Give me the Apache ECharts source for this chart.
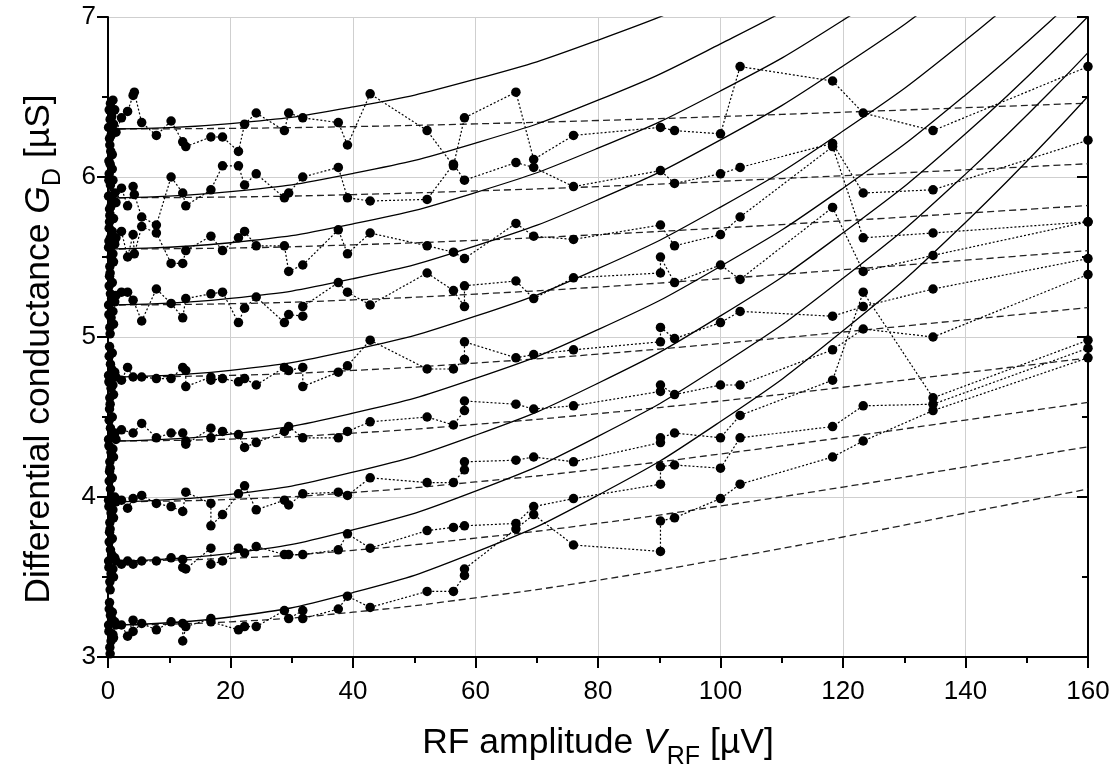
<!DOCTYPE html>
<html>
<head>
<meta charset="utf-8">
<script src="https://cdn.jsdelivr.net/npm/echarts@6/dist/echarts.min.js"></script>
<style>
html,body{margin:0;padding:0;background:#fff;}
#chart{width:1113px;height:770px;}
</style>
</head>
<body>
<div id="chart"></div>
<script>
// ---- measured data series (x = RF amplitude in µV, y = conductance in µS) ----
const s1 = [[0.1,6.31],[0.15,6.10],[0.2,6.42],[0.25,6.24],[0.3,6.2],[0.35,6.36],[0.4,6.46],[0.45,6.16],[0.5,6.26],[0.6,6.38],[0.7,6.14],[0.8,6.48],[0.9,6.33],[1.1,6.42],[1.3,6.28],[2.2,6.37],[3.2,6.41],[4.1,6.51],[4.3,6.53],[5.5,6.34],[7.9,6.26],[10.3,6.35],[12.2,6.22],[12.7,6.19],[16.8,6.25],[18.7,6.25],[21.3,6.16],[22.3,6.33],[24.2,6.40],[28.8,6.29],[29.5,6.40],[31.8,6.37],[37.6,6.34],[39.1,6.20],[42.8,6.52],[52.1,6.29],[56.4,6.07],[58.2,6.37],[66.6,6.53],[69.5,6.11],[76,6.26],[90.2,6.31],[92.5,6.29],[100,6.27],[103.2,6.69],[118.3,6.60],[123.3,6.40],[134.7,6.29],[160,6.69]];
const s2 = [[0.1,5.88],[0.15,5.98],[0.2,6.02],[0.25,5.8],[0.3,5.76],[0.35,6.08],[0.4,5.95],[0.5,5.82],[0.6,5.86],[0.7,6.05],[0.8,5.98],[0.9,5.74],[1.1,5.9],[1.3,5.84],[2.2,5.93],[3.2,5.82],[4.1,5.94],[4.3,5.89],[5.5,5.75],[7.9,5.70],[10.3,6.00],[12.2,5.90],[12.7,5.82],[16.8,5.92],[18.7,6.07],[21.3,6.07],[22.3,5.95],[24.2,6.02],[28.8,5.87],[29.5,5.90],[31.8,6.00],[37.6,6.06],[39.1,5.87],[42.8,5.85],[52.1,5.86],[56.4,6.08],[58.2,5.98],[66.6,6.09],[69.5,6.06],[76,5.94],[90.2,6.04],[92.5,5.96],[100,6.02],[103.2,6.06],[118.3,6.21],[123.3,5.90],[134.7,5.92],[160,6.23]];
const s3 = [[0.1,5.56],[0.15,5.6],[0.2,5.68],[0.25,5.72],[0.3,5.44],[0.35,5.4],[0.4,5.62],[0.5,5.5],[0.6,5.58],[0.7,5.66],[0.8,5.52],[0.9,5.47],[1.1,5.58],[1.3,5.62],[2.2,5.66],[3.2,5.50],[4.1,5.64],[4.3,5.52],[5.5,5.69],[7.9,5.65],[10.3,5.46],[12.2,5.46],[12.7,5.54],[16.8,5.63],[18.7,5.54],[21.3,5.62],[22.3,5.66],[24.2,5.57],[28.8,5.57],[29.5,5.41],[31.8,5.45],[37.6,5.67],[39.1,5.52],[42.8,5.65],[52.1,5.57],[56.4,5.53],[58.2,5.49],[66.6,5.71],[69.5,5.63],[76,5.61],[90.2,5.70],[92.5,5.57],[100,5.64],[103.2,5.75],[118.3,6.19],[123.3,5.62],[134.7,5.65],[160,5.72]];
const s4 = [[0.1,5.2],[0.15,5.14],[0.2,5.32],[0.25,5.38],[0.3,5.06],[0.35,5.02],[0.4,5.27],[0.5,5.12],[0.6,5.24],[0.7,5.34],[0.8,5.16],[0.9,5.08],[1.1,5.22],[1.3,5.26],[2.2,5.28],[3.2,5.28],[4.1,5.23],[5.5,5.10],[7.9,5.30],[10.3,5.21],[12.2,5.12],[12.7,5.24],[16.8,5.27],[18.7,5.28],[21.3,5.09],[22.3,5.18],[24.2,5.25],[28.8,5.09],[29.5,5.14],[31.8,5.13],[31.8,5.19],[37.6,5.34],[39.1,5.28],[42.8,5.20],[52.1,5.40],[56.4,5.29],[58.2,5.19],[58.2,5.32],[66.6,5.35],[69.5,5.24],[76,5.37],[90.2,5.40],[90.2,5.50],[92.5,5.34],[100,5.45],[103.2,5.36],[118.3,5.81],[123.3,5.41],[134.7,5.51],[160,5.72]];
const s5 = [[0.1,4.76],[0.15,4.72],[0.2,4.88],[0.25,4.94],[0.3,4.62],[0.35,4.58],[0.4,4.83],[0.5,4.68],[0.6,4.8],[0.7,4.9],[0.8,4.7],[0.9,4.64],[1.1,4.78],[1.3,4.75],[2.2,4.73],[3.2,4.81],[4.1,4.75],[5.5,4.75],[7.9,4.74],[10.3,4.74],[12.2,4.81],[12.7,4.79],[12.7,4.69],[16.8,4.75],[16.8,4.73],[18.7,4.74],[21.3,4.72],[22.3,4.74],[24.2,4.70],[28.8,4.81],[29.5,4.79],[31.8,4.81],[31.8,4.69],[37.6,4.78],[39.1,4.82],[42.8,4.98],[52.1,4.80],[56.4,4.80],[58.2,4.86],[58.2,4.97],[66.6,4.87],[69.5,4.89],[76,4.92],[90.2,4.97],[90.2,5.06],[92.5,4.99],[100,5.09],[103.2,5.16],[118.3,5.13],[123.3,5.19],[134.7,5.30],[160,5.49]];
const s6 = [[0.1,4.36],[0.15,4.32],[0.2,4.48],[0.25,4.55],[0.3,4.22],[0.35,4.18],[0.4,4.43],[0.5,4.28],[0.6,4.38],[0.7,4.5],[0.8,4.3],[0.9,4.25],[1.1,4.4],[1.3,4.36],[2.2,4.42],[4.1,4.40],[5.5,4.46],[7.9,4.37],[10.3,4.40],[12.2,4.40],[12.7,4.35],[12.7,4.33],[16.8,4.43],[16.8,4.37],[18.7,4.41],[21.3,4.39],[22.3,4.31],[24.2,4.34],[28.8,4.41],[29.5,4.44],[31.8,4.37],[37.6,4.37],[39.1,4.41],[42.8,4.47],[52.1,4.50],[56.4,4.45],[58.2,4.54],[58.2,4.60],[66.6,4.58],[69.5,4.55],[76,4.57],[90.2,4.66],[90.2,4.70],[92.5,4.64],[100,4.70],[103.2,4.70],[118.3,4.92],[123.3,5.05],[134.7,5.00],[160,5.39]];
const s7 = [[0.1,3.98],[0.15,3.94],[0.2,4.1],[0.25,4.16],[0.3,3.84],[0.35,3.8],[0.4,4.05],[0.5,3.9],[0.6,4.0],[0.7,4.12],[0.8,3.92],[0.9,3.87],[1.1,4.0],[1.3,3.97],[2.2,3.98],[3.2,3.93],[4.1,3.99],[5.5,4.01],[7.9,3.96],[10.3,3.94],[12.2,3.91],[12.7,4.03],[16.8,3.96],[16.8,3.82],[18.7,3.89],[21.3,4.02],[22.3,4.07],[24.2,3.92],[28.8,3.98],[29.5,3.95],[31.8,4.02],[37.6,4.03],[39.1,4.01],[42.8,4.12],[52.1,4.09],[56.4,4.09],[58.2,4.17],[58.2,4.22],[66.6,4.23],[69.5,4.25],[76,4.22],[90.2,4.34],[90.2,4.37],[92.5,4.40],[100,4.37],[103.2,4.51],[118.3,4.73],[123.3,5.28],[134.7,4.62],[160,4.98]];
const s8 = [[0.1,3.6],[0.15,3.56],[0.2,3.72],[0.25,3.78],[0.3,3.47],[0.35,3.42],[0.4,3.67],[0.5,3.52],[0.6,3.64],[0.7,3.74],[0.8,3.55],[0.9,3.5],[1.1,3.62],[1.3,3.6],[2.2,3.58],[3.2,3.60],[4.1,3.58],[5.5,3.60],[7.9,3.60],[10.3,3.62],[12.2,3.61],[12.2,3.56],[12.7,3.55],[16.8,3.68],[16.8,3.58],[18.7,3.60],[21.3,3.68],[22.3,3.65],[24.2,3.69],[28.8,3.64],[29.5,3.64],[31.8,3.64],[37.6,3.67],[39.1,3.77],[42.8,3.68],[52.1,3.79],[56.4,3.81],[58.2,3.82],[66.6,3.835],[69.5,3.94],[76,3.99],[90.2,4.08],[90.2,4.19],[92.5,4.20],[100,4.18],[103.2,4.37],[118.3,4.44],[123.3,4.57],[134.7,4.58],[160,4.93]];
const s9 = [[0.1,3.2],[0.15,3.16],[0.2,3.3],[0.25,3.34],[0.3,3.06],[0.35,3.02],[0.4,3.26],[0.5,3.1],[0.6,3.24],[0.7,3.28],[0.8,3.14],[0.9,3.12],[1.1,3.22],[1.3,3.2],[2.2,3.20],[3.2,3.13],[4.1,3.23],[4.1,3.16],[5.5,3.21],[7.9,3.17],[10.3,3.22],[12.2,3.21],[12.2,3.10],[12.7,3.19],[16.8,3.24],[16.8,3.22],[21.3,3.17],[22.3,3.19],[24.2,3.19],[28.8,3.29],[29.5,3.24],[31.8,3.29],[31.8,3.24],[37.6,3.30],[39.1,3.38],[42.8,3.31],[52.1,3.41],[56.4,3.41],[58.2,3.51],[58.2,3.55],[66.6,3.80],[69.5,3.89],[76,3.70],[90.2,3.66],[90.2,3.85],[92.5,3.87],[100,3.99],[103.2,4.08],[118.3,4.25],[123.3,4.35],[134.7,4.54],[160,4.87]];

// ---- fitted curves, read at these x positions ----
const fitX = [0,20,40,60,80,100,120,140,160];
const solid1 = [6.30,6.334,6.438,6.611,6.855,7.17,7.56,8.02,8.56];
const solid2 = [5.87,5.908,6.022,6.212,6.480,6.832,7.256,7.768,8.368];
const solid3 = [5.55,5.589,5.707,5.903,6.180,6.538,6.980,7.509,8.128];
const solid4 = [5.20,5.241,5.364,5.569,5.858,6.232,6.694,7.245,7.890];
const solid5 = [4.75,4.792,4.919,5.130,5.427,5.812,6.287,6.854,7.517];
const solid6 = [4.35,4.393,4.524,4.741,5.046,5.442,5.930,6.513,7.194];
const solid7 = [3.97,4.016,4.155,4.386,4.711,5.132,5.651,6.270,7.003];
const solid8 = [3.60,3.648,3.795,4.037,4.379,4.822,5.367,6.018,6.777];
const solid9 = [3.20,3.250,3.403,3.655,4.011,4.472,5.039,5.716,6.505];
const dash1 = [6.30,6.304,6.315,6.332,6.353,6.378,6.405,6.433,6.462];
const dash2 = [5.87,5.875,5.89,5.913,5.94,5.973,6.008,6.045,6.083];
const dash3 = [5.55,5.556,5.576,5.604,5.64,5.681,5.726,5.774,5.822];
const dash4 = [5.20,5.208,5.232,5.268,5.312,5.364,5.42,5.48,5.54];
const dash5 = [4.75,4.76,4.791,4.837,4.893,4.959,5.031,5.107,5.184];
const dash6 = [4.35,4.362,4.399,4.454,4.521,4.60,4.686,4.777,4.869];
const dash7 = [3.97,3.985,4.028,4.094,4.174,4.269,4.372,4.481,4.591];
const dash8 = [3.60,3.617,3.667,3.743,3.835,3.944,4.062,4.188,4.314];
const dash9 = [3.20,3.22,3.28,3.37,3.48,3.61,3.75,3.90,4.05];

const measured = [s1,s2,s3,s4,s5,s6,s7,s8,s9];
const solids = [solid1,solid2,solid3,solid4,solid5,solid6,solid7,solid8,solid9];
const dashes = [dash1,dash2,dash3,dash4,dash5,dash6,dash7,dash8,dash9];

const FONT = 'Liberation Sans';
const pair = arr => fitX.map((x,i)=>[x,arr[i]]);

const series = [];
dashes.forEach(d => series.push({
  type:'line', data:pair(d), smooth:true, showSymbol:false, silent:true, z:2,
  lineStyle:{color:'#222', width:1.3, type:[7,4]}
}));
solids.forEach(s => series.push({
  type:'line', data:pair(s), smooth:true, showSymbol:false, silent:true, z:3,
  lineStyle:{color:'#000', width:1.3, type:'solid'}
}));
measured.forEach(m => series.push({
  type:'line', data:m, symbol:'circle', symbolSize:9.5, silent:true, z:4,
  itemStyle:{color:'#000'},
  lineStyle:{color:'#000', width:1.2, type:[2,2]}
}));

const richTitle = {
  n:{fontSize:35.5, fontFamily:FONT, color:'#000', lineHeight:35, verticalAlign:'top'},
  i:{fontSize:35.5, fontFamily:FONT, color:'#000', fontStyle:'italic', lineHeight:35, verticalAlign:'top'},
  s:{fontSize:25, fontFamily:FONT, color:'#000', lineHeight:25, verticalAlign:'top', padding:[20,0,0,0]}
};
const axisBlack = {show:true, onZero:false, lineStyle:{color:'#000', width:2}};
const chart = echarts.init(document.getElementById('chart'), null, {renderer:'canvas'});
chart.setOption({
  animation:false,
  backgroundColor:'#fff',
  grid:{left:108, right:25, top:17, bottom:113, containLabel:false, outerBoundsMode:'none'},
  xAxis:[{
    type:'value', min:0, max:160, interval:20, position:'bottom',
    axisLine:axisBlack,
    axisTick:{show:true, inside:false, length:11, lineStyle:{color:'#000', width:2}},
    minorTick:{show:true, splitNumber:2, length:6, lineStyle:{color:'#000', width:2}},
    splitLine:{show:true, lineStyle:{color:'#cfcfcf', width:1}},
    axisLabel:{fontSize:26, color:'#000', fontFamily:FONT, margin:22},
    name:'{n|RF amplitude }{i|V}{s|RF}{n| [µV]}',
    nameLocation:'middle', nameGap:68,
    nameTextStyle:{rich:richTitle}
  }],
  yAxis:[{
    type:'value', min:3, max:7, interval:1, position:'left',
    axisLine:axisBlack,
    axisTick:{show:true, inside:false, length:11, lineStyle:{color:'#000', width:2}},
    minorTick:{show:true, splitNumber:2, length:6, lineStyle:{color:'#000', width:2}},
    splitLine:{show:true, lineStyle:{color:'#cfcfcf', width:1}},
    axisLabel:{fontSize:26, color:'#000', fontFamily:FONT, margin:12},
    name:'{n|Differential conductance }{i|G}{s|D}{n| [µS]}',
    nameLocation:'middle', nameRotate:90, nameGap:52,
    nameTextStyle:{rich:richTitle, padding:[0,24,0,0]}
  },{
    type:'value', min:3, max:7, interval:1, position:'right',
    axisLine:axisBlack,
    axisTick:{show:true, inside:true, length:11, lineStyle:{color:'#000', width:2}},
    minorTick:{show:true, splitNumber:2, length:6, lineStyle:{color:'#000', width:2}},
    splitLine:{show:false},
    axisLabel:{show:false}
  }],
  series:series
});
</script>
</body>
</html>
